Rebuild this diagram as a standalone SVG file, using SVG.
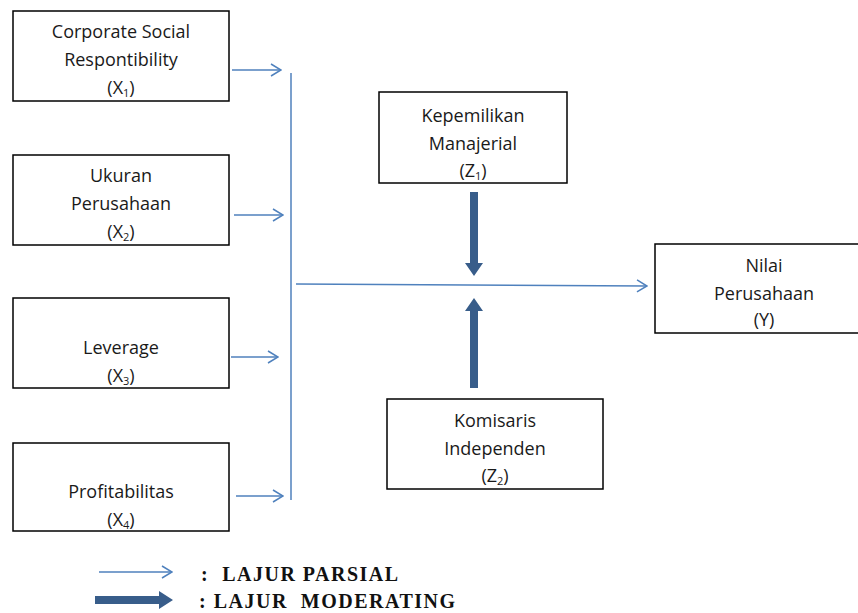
<svg xmlns="http://www.w3.org/2000/svg" width="858" height="613" viewBox="0 0 858 613">
<style>
.box{fill:#fff;stroke:#000;stroke-width:1.5}
.t{font-family:"Open Sans","Noto Sans",sans-serif;font-size:18px;fill:#1a1a1a;text-anchor:middle}
.sub{font-size:11px}
.thin{stroke:#4F81BD;stroke-width:1.5;fill:none}
.thick{fill:#385D8A}
.leg{font-family:"Liberation Serif","Times New Roman",serif;font-size:20px;font-weight:bold;fill:#111;letter-spacing:1.5px;white-space:pre}
</style>
<defs>
<marker id="open" markerWidth="12" markerHeight="14" refX="11" refY="7" orient="auto" markerUnits="userSpaceOnUse">
<path d="M1,1 L11,7 L1,13" fill="none" stroke="#4F81BD" stroke-width="1.5"/>
</marker>
</defs>
<g id="x1"><rect class="box" x="13" y="11" width="216" height="90"/>
<text class="t" x="121" y="38">Corporate Social</text>
<text class="t" x="121" y="66">Respontibility</text>
<text class="t" x="121" y="94">(X<tspan class="sub" dy="3">1</tspan><tspan dy="-3">)</tspan></text></g>
<g id="x2"><rect class="box" x="13" y="155" width="216" height="90"/>
<text class="t" x="121" y="182">Ukuran</text>
<text class="t" x="121" y="210">Perusahaan</text>
<text class="t" x="121" y="238">(X<tspan class="sub" dy="3">2</tspan><tspan dy="-3">)</tspan></text></g>
<g id="x3"><rect class="box" x="13" y="298" width="216" height="90"/>
<text class="t" x="121" y="354">Leverage</text>
<text class="t" x="121" y="382">(X<tspan class="sub" dy="3">3</tspan><tspan dy="-3">)</tspan></text></g>
<g id="x4"><rect class="box" x="13" y="443" width="216" height="88"/>
<text class="t" x="121" y="498">Profitabilitas</text>
<text class="t" x="121" y="526">(X<tspan class="sub" dy="3">4</tspan><tspan dy="-3">)</tspan></text></g>
<g id="z1"><rect class="box" x="379" y="92" width="188" height="91"/>
<text class="t" x="473" y="122">Kepemilikan</text>
<text class="t" x="473" y="150">Manajerial</text>
<text class="t" x="473" y="177">(Z<tspan class="sub" dy="3">1</tspan><tspan dy="-3">)</tspan></text></g>
<g id="z2"><rect class="box" x="387" y="399" width="216" height="90"/>
<text class="t" x="495" y="427">Komisaris</text>
<text class="t" x="495" y="455">Independen</text>
<text class="t" x="495" y="482">(Z<tspan class="sub" dy="3">2</tspan><tspan dy="-3">)</tspan></text></g>
<g id="y"><rect class="box" x="655" y="244" width="210" height="89"/>
<text class="t" x="764" y="272">Nilai</text>
<text class="t" x="764" y="300">Perusahaan</text>
<text class="t" x="764" y="326">(Y)</text></g>
<g id="connectors">
<line class="thin" x1="232" y1="70" x2="281" y2="70" marker-end="url(#open)"/>
<line class="thin" x1="234" y1="215" x2="283" y2="215" marker-end="url(#open)"/>
<line class="thin" x1="231" y1="357" x2="278" y2="357" marker-end="url(#open)"/>
<line class="thin" x1="236" y1="496" x2="283" y2="496" marker-end="url(#open)"/>
<line class="thin" x1="291" y1="73" x2="291" y2="500"/>
<line class="thin" x1="296" y1="284" x2="647" y2="286" marker-end="url(#open)"/>
<path class="thick" d="M470,192 H478 V263 H483 L474,276 L465,263 H470 Z"/>
<path class="thick" d="M470,388 H478 V311 H483 L474,298 L465,311 H470 Z"/>
</g>
<g id="legend">
<line class="thin" x1="99" y1="572" x2="172" y2="572" marker-end="url(#open)"/>
<path class="thick" d="M95,596 H159 V591 L173,600 L159,609 V604 H95 Z"/>
<text class="leg" x="201" y="581" xml:space="preserve">:  LAJUR PARSIAL</text>
<text class="leg" x="199" y="608" xml:space="preserve">: LAJUR  MODERATING</text>
</g>
</svg>
